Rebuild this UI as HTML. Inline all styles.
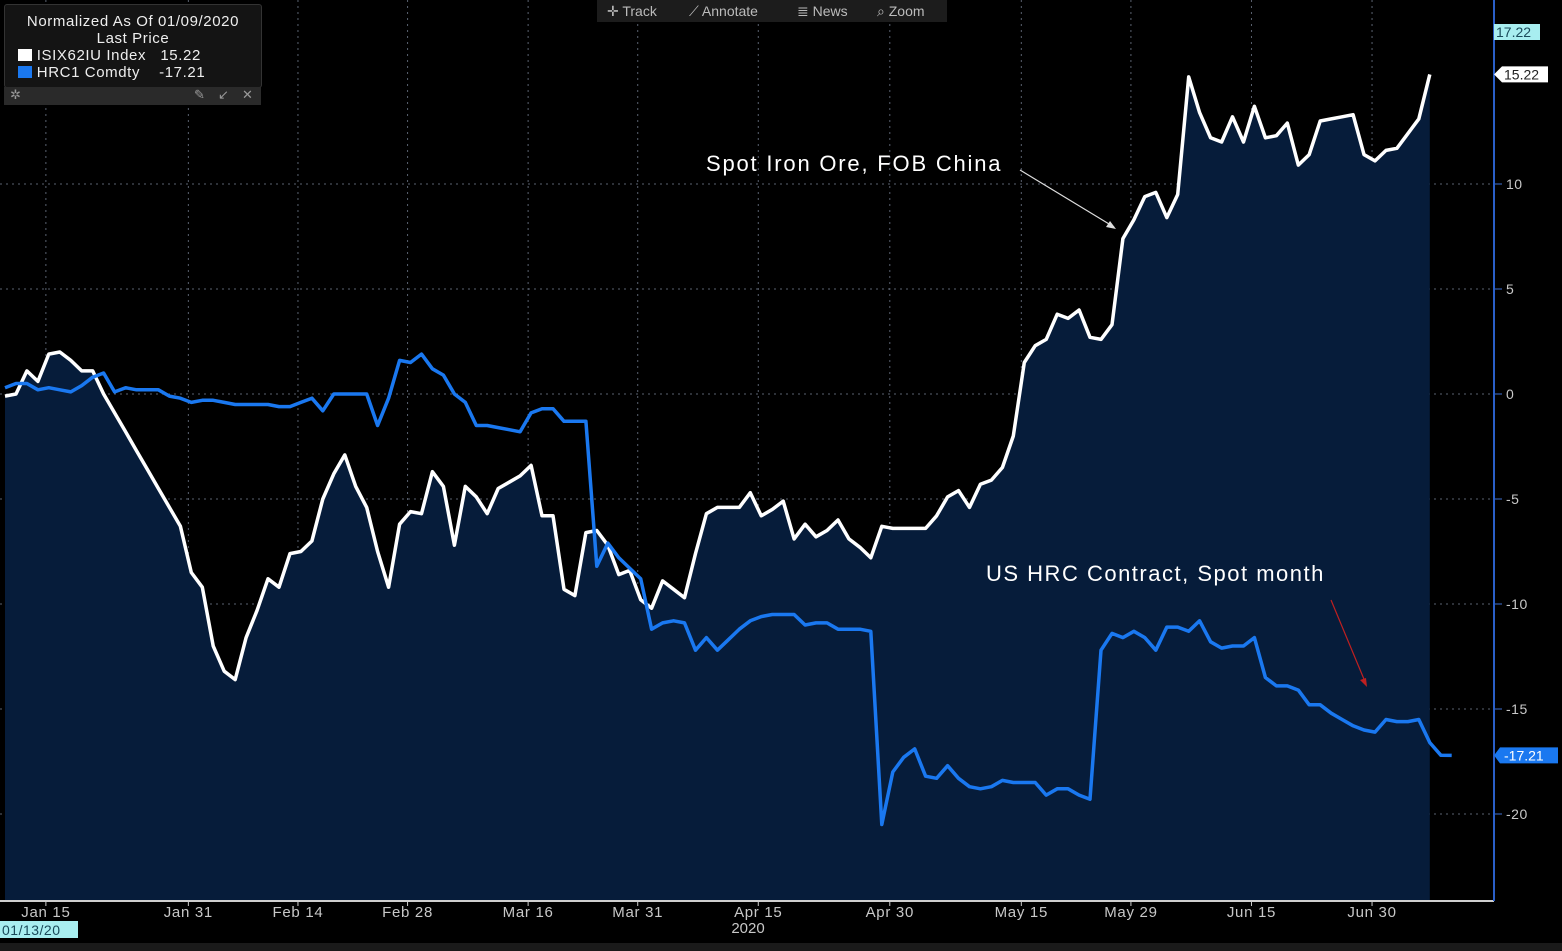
<!DOCTYPE html>
<html><head><meta charset="utf-8"><style>
body{margin:0;background:#000;width:1562px;height:951px;overflow:hidden;font-family:"Liberation Sans",sans-serif;position:relative}
svg text{font-family:"Liberation Sans",sans-serif}
</style></head><body>
<svg id="chart" width="1562" height="951" xmlns="http://www.w3.org/2000/svg" style="position:absolute;left:0;top:0">
<rect x="0" y="0" width="1562" height="951" fill="#000"/>
<g id="grid"></g>
<g id="series"></g>
<g id="axes"></g>
</svg>
<script>
const iron = [-0.1,0,1.1,0.6,1.9,2.0,1.6,1.1,1.1,0,-0.9,-1.8,-2.7,-3.6,-4.5,-5.4,-6.3,-8.5,-9.2,-12,-13.2,-13.6,-11.6,-10.3,-8.8,-9.2,-7.6,-7.5,-7,-5,-3.8,-2.9,-4.4,-5.4,-7.5,-9.2,-6.2,-5.6,-5.7,-3.7,-4.4,-7.2,-4.4,-4.9,-5.7,-4.5,-4.2,-3.9,-3.4,-5.8,-5.8,-9.3,-9.6,-6.6,-6.5,-7.2,-8.6,-8.4,-9.8,-10.2,-8.9,-9.3,-9.7,-7.6,-5.7,-5.4,-5.4,-5.4,-4.7,-5.8,-5.5,-5.1,-6.9,-6.2,-6.8,-6.5,-6,-6.9,-7.3,-7.8,-6.3,-6.4,-6.4,-6.4,-6.4,-5.8,-4.9,-4.6,-5.4,-4.3,-4.1,-3.5,-2,1.5,2.3,2.6,3.8,3.6,4,2.7,2.6,3.3,7.4,8.3,9.4,9.6,8.4,9.5,15.1,13.4,12.2,12,13.2,12,13.7,12.2,12.3,12.9,10.9,11.4,13,13.1,13.2,13.3,11.4,11.1,11.6,11.7,12.4,13.1,15.22];
const hrc = [0.3,0.5,0.5,0.2,0.3,0.2,0.1,0.4,0.8,1.0,0.1,0.3,0.2,0.2,0.2,-0.1,-0.2,-0.4,-0.3,-0.3,-0.4,-0.5,-0.5,-0.5,-0.5,-0.6,-0.6,-0.4,-0.2,-0.8,0,0,0,0,-1.5,-0.2,1.6,1.5,1.9,1.2,0.9,0,-0.4,-1.5,-1.5,-1.6,-1.7,-1.8,-0.9,-0.7,-0.7,-1.3,-1.3,-1.3,-8.2,-7.1,-7.8,-8.3,-8.8,-11.2,-10.9,-10.8,-10.9,-12.2,-11.6,-12.2,-11.7,-11.2,-10.8,-10.6,-10.5,-10.5,-10.5,-11,-10.9,-10.9,-11.2,-11.2,-11.2,-11.3,-20.5,-18,-17.3,-16.9,-18.2,-18.3,-17.7,-18.3,-18.7,-18.8,-18.7,-18.4,-18.5,-18.5,-18.5,-19.1,-18.8,-18.8,-19.1,-19.3,-12.2,-11.4,-11.6,-11.3,-11.6,-12.2,-11.1,-11.1,-11.3,-10.8,-11.8,-12.1,-12,-12,-11.6,-13.5,-13.9,-13.9,-14.1,-14.8,-14.8,-15.2,-15.5,-15.8,-16,-16.1,-15.5,-15.6,-15.6,-15.5,-16.6,-17.2,-17.21];
const yTicks = [10,5,0,-5,-10,-15,-20];
const xTickLabels = ["Jan 15","Jan 31","Feb 14","Feb 28","Mar 16","Mar 31","Apr 15","Apr 30","May 15","May 29","Jun 15","Jun 30"];
const xTickIdx = [3,16,26,36,47,57,68,80,92,102,113,124];

const NS="http://www.w3.org/2000/svg";
const X0=5, STEP=10.96;
function xs(i){return X0+i*STEP;}
function ys(v){return 394-21*v;}
function mk(tag,attrs,parent,txt){const e=document.createElementNS(NS,tag);for(const k in attrs)e.setAttribute(k,attrs[k]);if(txt!==undefined)e.textContent=txt;parent.appendChild(e);return e;}
const grid=document.getElementById('grid'),ser=document.getElementById('series'),ax=document.getElementById('axes');
const BOT=901;
let d='M'+xs(0)+','+BOT;
iron.forEach((v,i)=>{d+=' L'+xs(i).toFixed(1)+','+ys(v).toFixed(1);});
d+=' L'+xs(iron.length-1)+','+BOT+' Z';
const area=mk('path',{d:d,fill:'#061c3a'},ser);


yTicks.forEach(t=>{
  const l=mk('line',{x1:0,x2:1494,y1:ys(t),y2:ys(t),stroke:'#5a6270','stroke-width':1,'stroke-dasharray':'2,4'},grid);
  
  
  const tk=mk('line',{x1:1494,x2:1502,y1:ys(t),y2:ys(t),stroke:'#3f6fd0','stroke-width':1},ax);
  
  
  const tx=mk('text',{x:1506,y:ys(t)+5,fill:'#c8c8c8','font-size':14,'letter-spacing':'0.5'},ax,String(t));
  
  
});
xTickIdx.forEach((ix,k)=>{
  const x=xs(ix)+8;
  const l=mk('line',{x1:x,x2:x,y1:0,y2:BOT,stroke:'#5a6270','stroke-width':1,'stroke-dasharray':'2,4'},grid);
  
  
  const tx=mk('text',{x:x,y:917,fill:'#c8c8c8','font-size':15,'letter-spacing':'0.7','text-anchor':'middle'},ax,xTickLabels[k]);
  
  
  mk('line',{x1:x,x2:x,y1:BOT,y2:BOT+5,stroke:'#ccc'},ax);
});
function linePath(arr){return arr.map((v,i)=>(i?'L':'M')+xs(i).toFixed(1)+','+ys(v).toFixed(1)).join(' ');}
const ln1=mk('path',{d:linePath(iron),fill:'none',stroke:'#fff','stroke-width':3.5,'stroke-linejoin':'round'},ser);


const ln2=mk('path',{d:linePath(hrc),fill:'none',stroke:'#1a78f0','stroke-width':3.5,'stroke-linejoin':'round'},ser);


mk('line',{x1:0,x2:1494,y1:BOT,y2:BOT,stroke:'#cfcfcf','stroke-width':2},ax);
mk('line',{x1:1494,x2:1494,y1:0,y2:BOT,stroke:'#2a5fc8','stroke-width':2},ax);
mk('text',{x:748,y:933,fill:'#c8c8c8','font-size':15,'text-anchor':'middle'},ax,'2020');
mk('rect',{x:0,y:921,width:78,height:17,fill:'#a8eef0'},ax);
mk('text',{x:2,y:935,fill:'#1a4a5a','font-size':14,'letter-spacing':'0.5'},ax,'01/13/20');
mk('rect',{x:0,y:943,width:1562,height:8,fill:'#1a1a1a'},ax);
mk('rect',{x:1494,y:24,width:46,height:16,fill:'#a8eef0'},ax);
mk('text',{x:1496,y:37,fill:'#1a4a5a','font-size':14},ax,'17.22');
mk('path',{d:'M1494,'+ys(15.22)+' l8,-8 h46 v16 h-46 z',fill:'#fff'},ax);
mk('text',{x:1504,y:ys(15.22)+5,fill:'#222','font-size':14},ax,'15.22');
mk('path',{d:'M1494,'+ys(-17.21)+' l6,-8 h58 v16 h-58 z',fill:'#1a78f0'},ax);
mk('text',{x:1504,y:ys(-17.21)+5,fill:'#fff','font-size':14},ax,'-17.21');
</script>
<div style="position:absolute;left:706px;top:151px;color:#fff;font-size:22px;letter-spacing:1.8px;white-space:nowrap">Spot Iron Ore, FOB China</div>
<svg style="position:absolute;left:0;top:0" width="1562" height="951">
<line x1="1020" y1="170" x2="1114" y2="227" stroke="#ddd" stroke-width="1.2"/><path d="M1116,229 l-10,-2 l4,-6 z" fill="#ddd"/>
<line x1="1331" y1="600" x2="1366" y2="684" stroke="#c02020" stroke-width="1.2"/><path d="M1367,687 l-7,-7 l6,-2 z" fill="#c02020"/>
</svg>
<div style="position:absolute;left:986px;top:561px;color:#fff;font-size:22px;letter-spacing:1.5px;white-space:nowrap">US HRC Contract, Spot month</div>
<div style="position:absolute;left:4px;top:4px;width:256px;height:82px;background:#141414;border:1px solid #333;border-radius:3px;color:#eee;font-size:15px;line-height:17px;letter-spacing:0.6px;white-space:nowrap">
<div style="text-align:center;margin-top:8px">Normalized As Of 01/09/2020</div>
<div style="text-align:center">Last Price</div>
<div style="padding-left:13px"><span style="display:inline-block;width:14px;height:12px;background:#fff;vertical-align:-1px"></span> ISIX62IU Index&nbsp;&nbsp;&nbsp;15.22</div>
<div style="padding-left:13px"><span style="display:inline-block;width:14px;height:12px;background:#1a78f0;vertical-align:-1px"></span> HRC1 Comdty&nbsp;&nbsp;&nbsp;&nbsp;-17.21</div>
</div>
<div style="position:absolute;left:4px;top:87px;width:257px;height:18px;background:#2a2a2a;color:#999;font-size:13px">
<span style="position:absolute;left:6px;top:0">✲</span>
<span style="position:absolute;left:190px;top:0">✎</span>
<span style="position:absolute;left:214px;top:0">↙</span>
<span style="position:absolute;left:238px;top:0">✕</span>
</div>
<div style="position:absolute;left:597px;top:0;width:350px;height:22px;background:#1c1c1c;color:#bbb;font-size:14px;line-height:22px">
<span style="position:absolute;left:10px">✛ Track</span>
<span style="position:absolute;left:92px">⟋ Annotate</span>
<span style="position:absolute;left:200px">≣ News</span>
<span style="position:absolute;left:280px">⌕ Zoom</span>
</div>
</body></html>
